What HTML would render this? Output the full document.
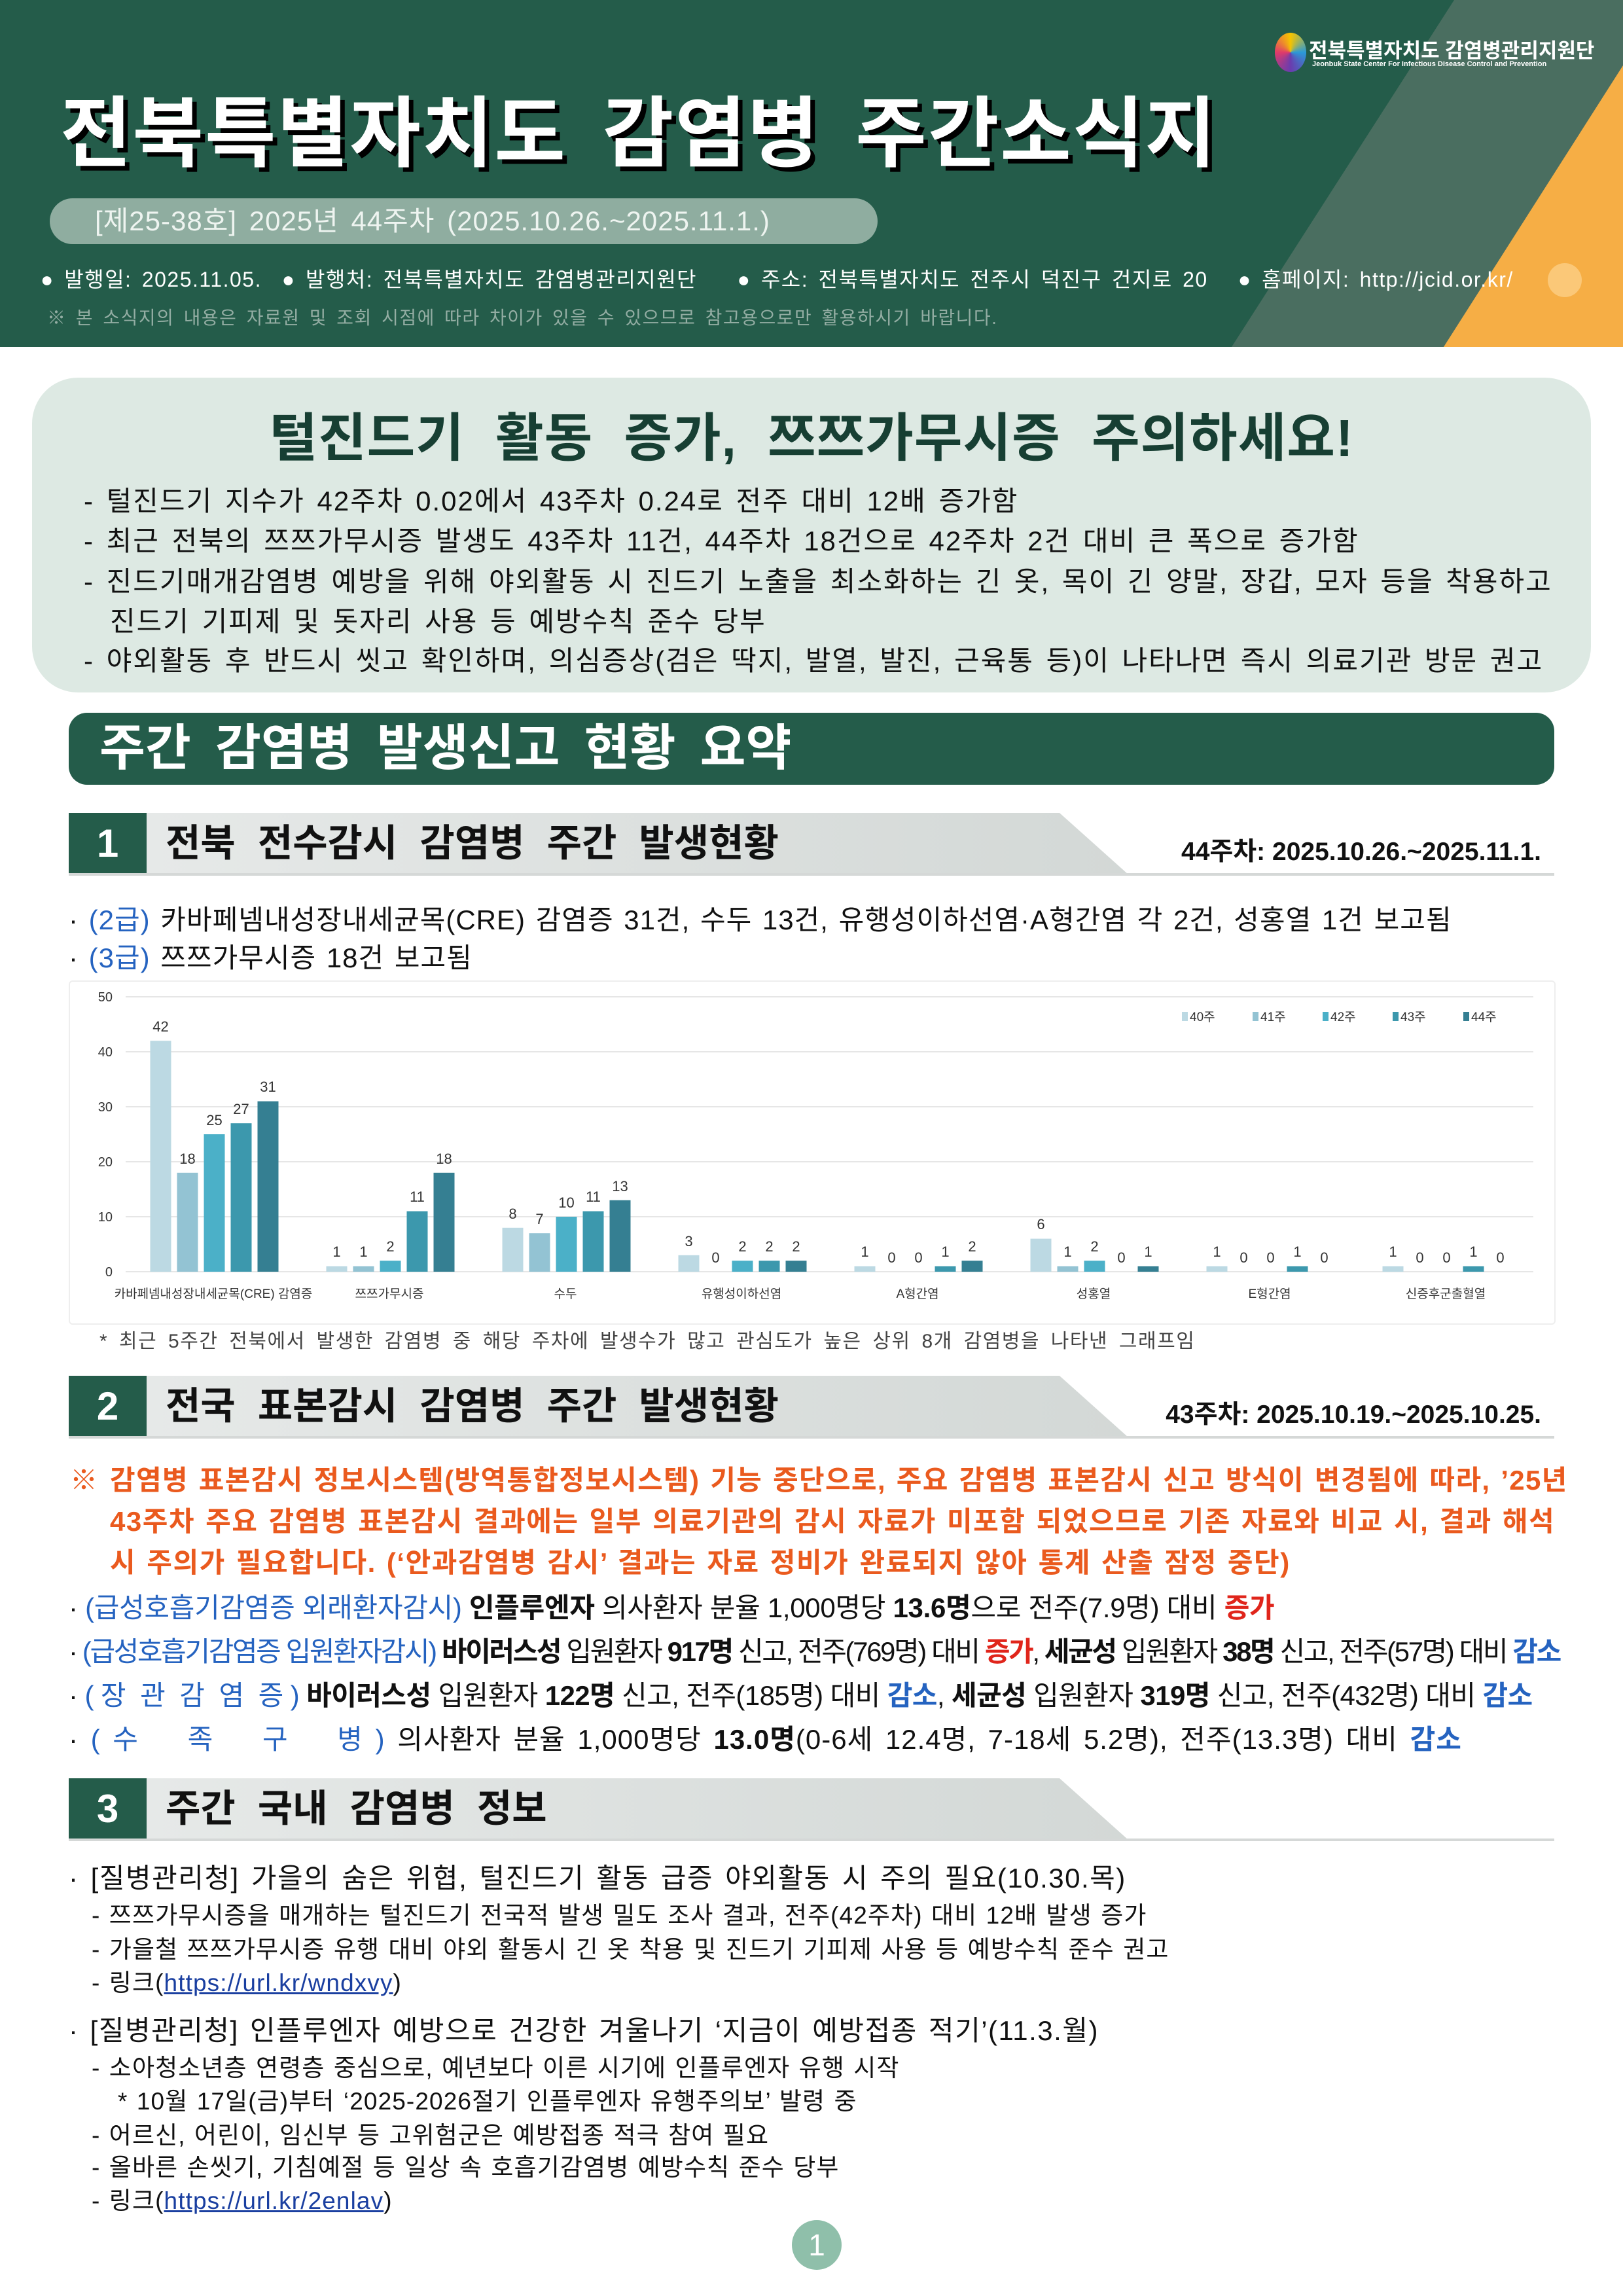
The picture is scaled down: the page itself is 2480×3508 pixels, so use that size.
<!DOCTYPE html>
<html><head><meta charset="utf-8"><style>
*{margin:0;padding:0;box-sizing:border-box}
body{width:2480px;height:3508px;position:relative;background:#fff;font-family:"Liberation Sans","Noto Sans CJK KR",sans-serif;color:#111;overflow:hidden}
.a{position:absolute;white-space:nowrap}
.hdr{position:absolute;left:0;top:0;width:2480px;height:530px;background:#245c4a;overflow:hidden}
.sec{position:absolute;left:105px;height:94px;width:2270px}
.sec .num{position:absolute;left:0;top:0;width:119px;height:94px;background:#245c4a;color:#fff;font-weight:bold;font-size:60px;text-align:center;line-height:94px}
.sec .band{position:absolute;left:119px;top:0;width:1500px;height:94px;background:linear-gradient(90deg,#e6e9e8,#d3d8d6);clip-path:polygon(0 0,93% 0,100% 100%,0 100%)}
.sec .t{position:absolute;left:148px;top:0;line-height:94px;font-size:58px;font-weight:bold;color:#111;word-spacing:18px}
.sec .r{position:absolute;right:20px;top:28px;font-size:39px;font-weight:bold}
.sec .ln{position:absolute;left:0;top:92px;width:2270px;height:4px;background:#d5d8d7}
.b{font-size:42px}
.s{font-size:37px;letter-spacing:1.1px;word-spacing:2px}
.cb{letter-spacing:2px;word-spacing:5px}
.blue{color:#2563c0}.red{color:#e0251b}
</style></head><body>
<div class="hdr">
<div class="a" style="left:0;top:0;width:2480px;height:530px;background:#4a6e60;clip-path:polygon(2222px 0,2480px 0,2480px 530px,1882px 530px)"></div>
<div class="a" style="left:0;top:0;width:2480px;height:530px;background:#f6ae45;clip-path:polygon(2480px 100px,2480px 530px,2206px 530px)"></div>
<div class="a" style="left:1948px;top:50px;width:48px;height:60px;border-radius:50%;background:conic-gradient(#f5c400,#2a9ad8,#6a3cae,#e03a6a,#f5c400)"></div>
<div class="a" style="left:2000px;top:52px;font-size:31px;font-weight:bold;color:#fff">전북특별자치도 감염병관리지원단</div>
<div class="a" style="left:2005px;top:92px;font-size:11px;font-weight:bold;color:#fff">Jeonbuk State Center For Infectious Disease Control and Prevention</div>
<div class="a" style="left:92px;top:108px;font-size:118px;font-weight:bold;color:#fff;letter-spacing:2px;word-spacing:20px;text-shadow:7px 7px 0 #000">전북특별자치도 감염병 주간소식지</div>
<div class="a" style="left:76px;top:303px;width:1265px;height:70px;border-radius:35px;background:#8fada0"></div>
<div class="a" style="left:145px;top:305px;line-height:66px;font-size:42px;color:#eef4f0;letter-spacing:1px;word-spacing:6px">[제25-38호] 2025년 44주차 (2025.10.26.~2025.11.1.)</div>
<div class="a" style="left:62px;top:402px;font-size:32px;color:#fff;letter-spacing:1.5px;word-spacing:5px">● 발행일: 2025.11.05. &nbsp;● 발행처: 전북특별자치도 감염병관리지원단 &nbsp;&nbsp;&nbsp;● 주소: 전북특별자치도 전주시 덕진구 건지로 20 &nbsp;&nbsp;● 홈페이지: http://jcid.or.kr/</div>
<div class="a" style="left:2365px;top:402px;width:52px;height:52px;border-radius:50%;background:#fbc878"></div>
<div class="a" style="left:72px;top:464px;font-size:28px;color:#93ada3;letter-spacing:1.5px;word-spacing:5px">※ 본 소식지의 내용은 자료원 및 조회 시점에 따라 차이가 있을 수 있으므로 참고용으로만 활용하시기 바랍니다.</div>
</div>

<div class="a" style="left:49px;top:577px;width:2382px;height:481px;border-radius:70px;background:#dde9e3"></div>
<div class="a" style="left:0;width:2480px;top:605px;text-align:center;font-size:80px;font-weight:bold;color:#173f33;word-spacing:24px;letter-spacing:1px">털진드기 활동 증가, 쯔쯔가무시증 주의하세요!</div>
<div class="a b cb" style="left:128px;top:732px">- 털진드기 지수가 42주차 0.02에서 43주차 0.24로 전주 대비 12배 증가함</div>
<div class="a b cb" style="left:128px;top:793px">- 최근 전북의 쯔쯔가무시증 발생도 43주차 11건, 44주차 18건으로 42주차 2건 대비 큰 폭으로 증가함</div>
<div class="a b cb" style="left:128px;top:855px">- 진드기매개감염병 예방을 위해 야외활동 시 진드기 노출을 최소화하는 긴 옷, 목이 긴 양말, 장갑, 모자 등을 착용하고</div>
<div class="a b cb" style="left:168px;top:916px">진드기 기피제 및 돗자리 사용 등 예방수칙 준수 당부</div>
<div class="a b cb" style="left:128px;top:976px">- 야외활동 후 반드시 씻고 확인하며, 의심증상(검은 딱지, 발열, 발진, 근육통 등)이 나타나면 즉시 의료기관 방문 권고</div>

<div class="a" style="left:105px;top:1089px;width:2270px;height:110px;border-radius:28px;background:#245c4a"></div>
<div class="a" style="left:152px;top:1099px;line-height:90px;font-size:76px;font-weight:bold;color:#fff;word-spacing:16px">주간 감염병 발생신고 현황 요약</div>

<div class="sec" style="top:1242px"><div class="band"></div><div class="num">1</div><div class="t">전북 전수감시 감염병 주간 발생현황</div><div class="r">44주차: 2025.10.26.~2025.11.1.</div><div class="ln"></div></div>

<div class="a b" style="left:105px;top:1372px;letter-spacing:1px;word-spacing:3px">· <span class="blue">(2급)</span> 카바페넴내성장내세균목(CRE) 감염증 31건, 수두 13건, 유행성이하선염·A형간염 각 2건, 성홍열 1건 보고됨</div>
<div class="a b" style="left:105px;top:1430px;letter-spacing:1px;word-spacing:3px">· <span class="blue">(3급)</span> 쯔쯔가무시증 18건 보고됨</div>

<div class="a" style="left:105px;top:1498px;width:2272px;height:526px;border:2px solid #eee;border-radius:6px"></div>
<svg class="a" style="left:0;top:0" width="2480" height="3508" font-family="Liberation Sans, Noto Sans CJK KR, sans-serif">
<g stroke="#e6e6e6" stroke-width="2"><line x1="192" x2="2343" y1="1523" y2="1523"/><line x1="192" x2="2343" y1="1607" y2="1607"/><line x1="192" x2="2343" y1="1691" y2="1691"/><line x1="192" x2="2343" y1="1775" y2="1775"/><line x1="192" x2="2343" y1="1859" y2="1859"/><line x1="192" x2="2343" y1="1943" y2="1943"/></g>
<g font-size="20" fill="#333" text-anchor="end"><text x="172" y="1530">50</text><text x="172" y="1614">40</text><text x="172" y="1698">30</text><text x="172" y="1782">20</text><text x="172" y="1866">10</text><text x="172" y="1950">0</text></g>
<g font-size="22" fill="#333" text-anchor="middle">
<rect x="229.5" y="1590.2" width="32" height="352.8" fill="#bcd9e3"/><text x="245.5" y="1576">42</text>
<rect x="270.5" y="1791.8" width="32" height="151.2" fill="#93c3d3"/><text x="286.5" y="1778">18</text>
<rect x="311.5" y="1733" width="32" height="210" fill="#4bb0c8"/><text x="327.5" y="1719">25</text>
<rect x="352.5" y="1716.2" width="32" height="226.8" fill="#3c98ad"/><text x="368.5" y="1702">27</text>
<rect x="393.5" y="1682.6" width="32" height="260.4" fill="#357f92"/><text x="409.5" y="1668">31</text>
<rect x="498.5" y="1934.6" width="32" height="8.4" fill="#bcd9e3"/><text x="514.5" y="1920">1</text>
<rect x="539.5" y="1934.6" width="32" height="8.4" fill="#93c3d3"/><text x="555.5" y="1920">1</text>
<rect x="580.5" y="1926.2" width="32" height="16.8" fill="#4bb0c8"/><text x="596.5" y="1912">2</text>
<rect x="621.5" y="1850.6" width="32" height="92.4" fill="#3c98ad"/><text x="637.5" y="1836">11</text>
<rect x="662.5" y="1791.8" width="32" height="151.2" fill="#357f92"/><text x="678.5" y="1778">18</text>
<rect x="767.5" y="1875.8" width="32" height="67.2" fill="#bcd9e3"/><text x="783.5" y="1862">8</text>
<rect x="808.5" y="1884.2" width="32" height="58.8" fill="#93c3d3"/><text x="824.5" y="1870">7</text>
<rect x="849.5" y="1859" width="32" height="84" fill="#4bb0c8"/><text x="865.5" y="1845">10</text>
<rect x="890.5" y="1850.6" width="32" height="92.4" fill="#3c98ad"/><text x="906.5" y="1836">11</text>
<rect x="931.5" y="1833.8" width="32" height="109.2" fill="#357f92"/><text x="947.5" y="1820">13</text>
<rect x="1036.5" y="1917.8" width="32" height="25.2" fill="#bcd9e3"/><text x="1052.5" y="1904">3</text>
<text x="1093.5" y="1929">0</text>
<rect x="1118.5" y="1926.2" width="32" height="16.8" fill="#4bb0c8"/><text x="1134.5" y="1912">2</text>
<rect x="1159.5" y="1926.2" width="32" height="16.8" fill="#3c98ad"/><text x="1175.5" y="1912">2</text>
<rect x="1200.5" y="1926.2" width="32" height="16.8" fill="#357f92"/><text x="1216.5" y="1912">2</text>
<rect x="1305.5" y="1934.6" width="32" height="8.4" fill="#bcd9e3"/><text x="1321.5" y="1920">1</text>
<text x="1362.5" y="1929">0</text><text x="1403.5" y="1929">0</text>
<rect x="1428.5" y="1934.6" width="32" height="8.4" fill="#3c98ad"/><text x="1444.5" y="1920">1</text>
<rect x="1469.5" y="1926.2" width="32" height="16.8" fill="#357f92"/><text x="1485.5" y="1912">2</text>
<rect x="1574.5" y="1892.6" width="32" height="50.4" fill="#bcd9e3"/><text x="1590.5" y="1878">6</text>
<rect x="1615.5" y="1934.6" width="32" height="8.4" fill="#93c3d3"/><text x="1631.5" y="1920">1</text>
<rect x="1656.5" y="1926.2" width="32" height="16.8" fill="#4bb0c8"/><text x="1672.5" y="1912">2</text>
<text x="1713.5" y="1929">0</text>
<rect x="1738.5" y="1934.6" width="32" height="8.4" fill="#357f92"/><text x="1754.5" y="1920">1</text>
<rect x="1843.5" y="1934.6" width="32" height="8.4" fill="#bcd9e3"/><text x="1859.5" y="1920">1</text>
<text x="1900.5" y="1929">0</text><text x="1941.5" y="1929">0</text>
<rect x="1966.5" y="1934.6" width="32" height="8.4" fill="#3c98ad"/><text x="1982.5" y="1920">1</text>
<text x="2023.5" y="1929">0</text>
<rect x="2112.5" y="1934.6" width="32" height="8.4" fill="#bcd9e3"/><text x="2128.5" y="1920">1</text>
<text x="2169.5" y="1929">0</text><text x="2210.5" y="1929">0</text>
<rect x="2235.5" y="1934.6" width="32" height="8.4" fill="#3c98ad"/><text x="2251.5" y="1920">1</text>
<text x="2292.5" y="1929">0</text>
</g>
<g font-size="19" fill="#333" text-anchor="middle"><text x="326" y="1983">카바페넴내성장내세균목(CRE) 감염증</text><text x="595" y="1983">쯔쯔가무시증</text><text x="864" y="1983">수두</text><text x="1133" y="1983">유행성이하선염</text><text x="1402" y="1983">A형간염</text><text x="1671" y="1983">성홍열</text><text x="1940" y="1983">E형간염</text><text x="2209" y="1983">신증후군출혈열</text></g>
<g font-size="19" fill="#333"><rect x="1806" y="1546" width="9" height="14" fill="#bcd9e3"/><text x="1818" y="1560">40주</text><rect x="1914" y="1546" width="9" height="14" fill="#93c3d3"/><text x="1926" y="1560">41주</text><rect x="2021" y="1546" width="9" height="14" fill="#4bb0c8"/><text x="2033" y="1560">42주</text><rect x="2128" y="1546" width="9" height="14" fill="#3c98ad"/><text x="2140" y="1560">43주</text><rect x="2236" y="1546" width="9" height="14" fill="#357f92"/><text x="2248" y="1560">44주</text></g>
</svg>
<div class="a" style="left:152px;top:2024px;font-size:30px;color:#444;letter-spacing:1.5px;word-spacing:7px">* 최근 5주간 전북에서 발생한 감염병 중 해당 주차에 발생수가 많고 관심도가 높은 상위 8개 감염병을 나타낸 그래프임</div>

<div class="sec" style="top:2102px"><div class="band"></div><div class="num">2</div><div class="t">전국 표본감시 감염병 주간 발생현황</div><div class="r">43주차: 2025.10.19.~2025.10.25.</div><div class="ln"></div></div>

<div class="a b" style="left:107px;top:2228px;color:#ea5a1e;font-weight:bold">※</div>
<div class="a b" style="left:168px;top:2228px;color:#ea5a1e;font-weight:bold;letter-spacing:1.3px;word-spacing:3px">감염병 표본감시 정보시스템(방역통합정보시스템) 기능 중단으로, 주요 감염병 표본감시 신고 방식이 변경됨에 따라, ’25년</div>
<div class="a b" style="left:168px;top:2291px;color:#ea5a1e;font-weight:bold;letter-spacing:1.5px;word-spacing:3px">43주차 주요 감염병 표본감시 결과에는 일부 의료기관의 감시 자료가 미포함 되었으므로 기존 자료와 비교 시, 결과 해석</div>
<div class="a b" style="left:168px;top:2354px;color:#ea5a1e;font-weight:bold;letter-spacing:1.5px;word-spacing:3px">시 주의가 필요합니다. (‘안과감염병 감시’ 결과는 자료 정비가 완료되지 않아 통계 산출 잠정 중단)</div>
<div class="a b" style="left:105px;top:2423px;letter-spacing:-0.3px">· <span class="blue">(급성호흡기감염증 외래환자감시)</span> <b>인플루엔자</b> 의사환자 분율 1,000명당 <b>13.6명</b>으로 전주(7.9명) 대비 <b class="red">증가</b></div>
<div class="a b" style="left:105px;top:2490px;letter-spacing:-2.4px">· <span class="blue">(급성호흡기감염증 입원환자감시)</span> <b>바이러스성</b> 입원환자 <b>917명</b> 신고, 전주(769명) 대비 <b class="red">증가</b>, <b>세균성</b> 입원환자 <b>38명</b> 신고, 전주(57명) 대비 <b class="blue">감소</b></div>
<div class="a b" style="left:105px;top:2557px;letter-spacing:-0.6px">· <span class="blue">( 장 &nbsp;관 &nbsp;감 &nbsp;염 &nbsp;증 )</span> <b>바이러스성</b> 입원환자 <b>122명</b> 신고, 전주(185명) 대비 <b class="blue">감소</b>, <b>세균성</b> 입원환자 <b>319명</b> 신고, 전주(432명) 대비 <b class="blue">감소</b></div>
<div class="a b" style="left:105px;top:2624px;letter-spacing:1px;word-spacing:6px">· <span class="blue">( 수 &nbsp;&nbsp;&nbsp;족 &nbsp;&nbsp;&nbsp;구 &nbsp;&nbsp;&nbsp;병 )</span> 의사환자 분율 1,000명당 <b>13.0명</b>(0-6세 12.4명, 7-18세 5.2명), 전주(13.3명) 대비 <b class="blue">감소</b></div>

<div class="sec" style="top:2717px"><div class="band"></div><div class="num">3</div><div class="t">주간 국내 감염병 정보</div><div class="ln"></div></div>

<div class="a b" style="left:105px;top:2836px;letter-spacing:1.5px;word-spacing:5px">· [질병관리청] 가을의 숨은 위협, 털진드기 활동 급증 야외활동 시 주의 필요(10.30.목)</div>
<div class="a s" style="left:140px;top:2896px">- 쯔쯔가무시증을 매개하는 털진드기 전국적 발생 밀도 조사 결과, 전주(42주차) 대비 12배 발생 증가</div>
<div class="a s" style="left:140px;top:2948px">- 가을철 쯔쯔가무시증 유행 대비 야외 활동시 긴 옷 착용 및 진드기 기피제 사용 등 예방수칙 준수 권고</div>
<div class="a s" style="left:140px;top:2999px">- 링크(<u style="color:#1a3fa0">https://url.kr/wndxvy</u>)</div>
<div class="a b" style="left:105px;top:3069px;letter-spacing:1.5px;word-spacing:4px">· [질병관리청] 인플루엔자 예방으로 건강한 겨울나기 ‘지금이 예방접종 적기’(11.3.월)</div>
<div class="a s" style="left:140px;top:3129px">- 소아청소년층 연령층 중심으로, 예년보다 이른 시기에 인플루엔자 유행 시작</div>
<div class="a s" style="left:180px;top:3180px">* 10월 17일(금)부터 ‘2025-2026절기 인플루엔자 유행주의보’ 발령 중</div>
<div class="a s" style="left:140px;top:3232px">- 어르신, 어린이, 임신부 등 고위험군은 예방접종 적극 참여 필요</div>
<div class="a s" style="left:140px;top:3281px">- 올바른 손씻기, 기침예절 등 일상 속 호흡기감염병 예방수칙 준수 당부</div>
<div class="a s" style="left:140px;top:3332px">- 링크(<u style="color:#1a3fa0">https://url.kr/2enlav</u>)</div>

<div class="a" style="left:1210px;top:3392px;width:76px;height:76px;border-radius:50%;background:#8fbfaa;color:#fff;font-size:46px;text-align:center;line-height:76px">1</div>
</body></html>
